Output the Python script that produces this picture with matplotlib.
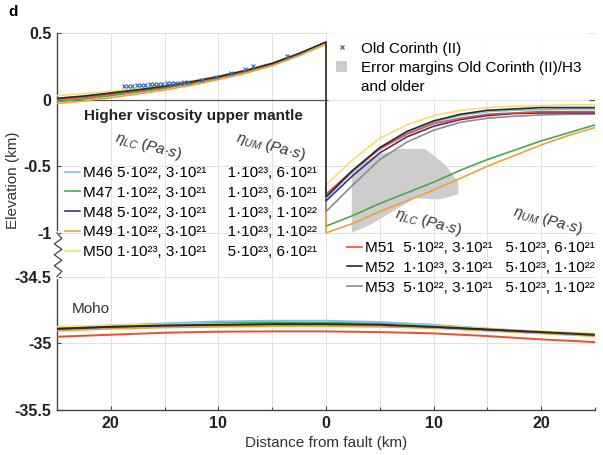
import numpy as np
import matplotlib
matplotlib.use("Agg")
import matplotlib.pyplot as plt
from matplotlib.lines import Line2D
from matplotlib.patches import Patch, Polygon
import matplotlib.transforms as mtransforms

plt.rcParams['font.family'] = ['Liberation Sans', 'DejaVu Sans']
plt.rcParams['mathtext.fontset'] = 'custom'
plt.rcParams['mathtext.rm'] = 'Liberation Sans'
plt.rcParams['mathtext.it'] = 'Liberation Sans:italic'

# ---------------- data ----------------
models = ["M46", "M47", "M48", "M49", "M50", "M51", "M52", "M53"]
colors = ["#7cc3e6", "#4aa84a", "#4b2a7f", "#f0a040", "#f5e06a", "#e8502e", "#2a2a2a", "#8c8c8c"]
eta_lc = ["5·10²², 3·10²¹", "1·10²², 3·10²¹", "5·10²², 3·10²¹", "1·10²², 3·10²¹",
          "1·10²³, 3·10²¹", "5·10²², 3·10²¹", "1·10²³, 3·10²¹", "5·10²², 3·10²¹"]
eta_um = ["1·10²³, 6·10²¹", "1·10²³, 6·10²¹", "1·10²³, 1·10²²", "1·10²³, 1·10²²",
          "5·10²³, 6·10²¹", "5·10²³, 6·10²¹", "5·10²³, 1·10²²", "5·10²³, 1·10²²"]

# surface profile, hanging wall side (x = -25 .. 0 km)
x_left = [-25, -22.5, -20, -17.5, -15, -12.5, -10, -7.5, -5, -2.5, 0]
surf_left = {
    "M46": [0.005, 0.023, 0.047, 0.072, 0.098, 0.132, 0.172, 0.218, 0.273, 0.347, 0.430],
    "M47": [-0.015, 0.005, 0.030, 0.057, 0.085, 0.120, 0.162, 0.208, 0.265, 0.340, 0.425],
    "M48": [0.005, 0.022, 0.045, 0.070, 0.096, 0.130, 0.170, 0.216, 0.271, 0.346, 0.430],
    "M49": [-0.030, -0.010, 0.015, 0.042, 0.072, 0.108, 0.150, 0.197, 0.255, 0.330, 0.415],
    "M50": [0.030, 0.045, 0.063, 0.085, 0.108, 0.140, 0.177, 0.220, 0.273, 0.345, 0.425],
    "M51": [0.000, 0.018, 0.042, 0.068, 0.094, 0.128, 0.168, 0.214, 0.269, 0.344, 0.430],
    "M52": [0.010, 0.027, 0.050, 0.074, 0.100, 0.134, 0.173, 0.218, 0.272, 0.346, 0.432],
    "M53": [0.000, 0.018, 0.042, 0.067, 0.093, 0.127, 0.167, 0.213, 0.268, 0.343, 0.428],
}
# surface profile, footwall side (x = 0 .. 25 km)
x_right = [0, 2.5, 5, 7.5, 10, 12.5, 15, 17.5, 20, 22.5, 25]
surf_right = {
    "M46": [-0.74, -0.54, -0.37, -0.25, -0.17, -0.12, -0.09, -0.080, -0.075, -0.07, -0.07],
    "M47": [-0.95, -0.87, -0.78, -0.70, -0.62, -0.53, -0.45, -0.38, -0.31, -0.25, -0.19],
    "M48": [-0.76, -0.57, -0.40, -0.28, -0.20, -0.15, -0.12, -0.105, -0.10, -0.10, -0.10],
    "M49": [-1.00, -0.93, -0.84, -0.76, -0.68, -0.59, -0.50, -0.42, -0.34, -0.27, -0.21],
    "M50": [-0.64, -0.45, -0.29, -0.19, -0.12, -0.08, -0.06, -0.05, -0.045, -0.04, -0.04],
    "M51": [-0.71, -0.53, -0.37, -0.26, -0.18, -0.14, -0.11, -0.10, -0.09, -0.09, -0.09],
    "M52": [-0.73, -0.53, -0.36, -0.24, -0.16, -0.11, -0.08, -0.07, -0.06, -0.06, -0.06],
    "M53": [-0.84, -0.64, -0.45, -0.32, -0.23, -0.17, -0.14, -0.125, -0.115, -0.11, -0.11],
}
# Moho profile
x_moho = [-25, -20, -15, -10, -5, 0, 5, 10, 15, 20, 25]
moho = {
    "M46": [-34.885, -34.865, -34.850, -34.835, -34.830, -34.830, -34.840, -34.860, -34.890, -34.915, -34.935],
    "M47": [-34.885, -34.870, -34.855, -34.845, -34.840, -34.845, -34.850, -34.865, -34.890, -34.915, -34.935],
    "M48": [-34.890, -34.875, -34.865, -34.860, -34.855, -34.855, -34.860, -34.875, -34.895, -34.915, -34.935],
    "M49": [-34.905, -34.890, -34.880, -34.875, -34.870, -34.870, -34.875, -34.885, -34.905, -34.925, -34.945],
    "M50": [-34.875, -34.865, -34.860, -34.855, -34.855, -34.855, -34.860, -34.870, -34.890, -34.910, -34.925],
    "M51": [-34.950, -34.935, -34.920, -34.912, -34.910, -34.910, -34.915, -34.925, -34.945, -34.970, -34.990],
    "M52": [-34.890, -34.875, -34.865, -34.860, -34.855, -34.855, -34.860, -34.875, -34.895, -34.915, -34.935],
    "M53": [-34.892, -34.877, -34.867, -34.862, -34.857, -34.857, -34.862, -34.877, -34.897, -34.917, -34.937],
}
# Old Corinth (II) observations
oc_x = [-18.8, -18.4, -18.0, -17.6, -17.2, -16.8, -16.4, -16.0, -15.6, -15.2, -14.8,
        -14.4, -14.0, -13.6, -13.2, -12.8, -11.5, -10.2, -8.8, -7.5, -6.8, -3.6]
oc_y = [0.100, 0.103, 0.105, 0.107, 0.110, 0.112, 0.114, 0.116, 0.118, 0.120, 0.121,
        0.123, 0.125, 0.127, 0.129, 0.131, 0.150, 0.170, 0.200, 0.230, 0.250, 0.330]
oc_err = [0.01] * len(oc_x)
# error margins polygon (Old Corinth (II)/H3 and older)
err_x = [2.4, 4.6, 6.9, 9.2, 11.1, 12.3, 12.3, 10.6, 8.3, 6.4, 4.1, 2.4]
err_y = [-0.53, -0.42, -0.37, -0.37, -0.49, -0.62, -0.71, -0.75, -0.74, -0.83, -0.94, -1.00]

x_ticks = [-20, -10, 0, 10, 20]
x_ticklabels = ["20", "10", "0", "10", "20"]
y_ticks = [-35.5, -35, -34.5, -1, -0.5, 0, 0.5]
y_ticklabels = ["-35.5", "-35", "-34.5", "-1", "-0.5", "0", "0.5"]

# ------------- broken y scale ----------------
GAP = 0.33
SHIFT = 34.5 - 1 - GAP  # 33.17


def fwd(y):
    y = np.asarray(y, dtype=float)
    return np.where(y >= -1, y,
                    np.where(y <= -34.5, y + SHIFT, -1 + (y + 1) * (GAP / 33.5)))


def inv(t):
    t = np.asarray(t, dtype=float)
    return np.where(t >= -1, t,
                    np.where(t <= -1 - GAP, t - SHIFT, -1 + (t + 1) * (33.5 / GAP)))


fig = plt.figure(figsize=(6.03, 4.55), dpi=100)
W, H = 603, 455
ax = fig.add_axes([57 / W, 1 - 410 / H, (595 - 57) / W, (410 - 33) / H])
ax.set_yscale('function', functions=(fwd, inv))
ax.set_xlim(-25, 25)
ax.set_ylim(-35.5, 0.5)

# grid
for xv in np.arange(-25, 26, 5):
    ax.axvline(xv, color="#e2e2e2", lw=0.7, zorder=0)
for yv in y_ticks:
    ax.axhline(yv, color="#e2e2e2", lw=0.7, zorder=0)
ax.axhline(0, color="#555555", lw=0.9, zorder=1)

# error polygon
ax.add_patch(Polygon(np.column_stack([err_x, err_y]), closed=True,
                     facecolor="#cdcdcd", edgecolor="none", zorder=1))

order = ["M47", "M49", "M53", "M48", "M46", "M51", "M50", "M52"]
handles = {}
for m in order:
    c = colors[models.index(m)]
    xs = np.concatenate([x_left, x_right])
    ys = np.concatenate([surf_left[m], surf_right[m]])
    ln, = ax.plot(xs, ys, color=c, lw=1.2, zorder=3)
    ax.plot(x_moho, moho[m], color=c, lw=1.4, zorder=3)
    handles[m] = ln

# Old Corinth observations
ax.errorbar(oc_x, oc_y, yerr=oc_err, fmt='x', color="#2f6db5", ms=2.2, mew=0.8,
            ecolor="#a0a0a0", elinewidth=0.6, capsize=0, zorder=4)

# axes styling
for s in ["top", "right"]:
    ax.spines[s].set_visible(False)
for s in ["left", "bottom"]:
    ax.spines[s].set_color("#444444")
    ax.spines[s].set_linewidth(1.0)
ax.set_xticks(x_ticks)
ax.set_xticklabels(x_ticklabels)
ax.set_xticks(np.arange(-25, 26, 5), minor=True)
ax.set_yticks(y_ticks)
ax.set_yticklabels(y_ticklabels)
ax.tick_params(axis='both', direction='in', length=3, width=0.8, color="#444444",
               labelsize=11.5, pad=4)
ax.tick_params(axis='x', which='minor', direction='in', length=2, width=0.8, color="#444444")
ax.tick_params(axis='y', which='minor', length=0)
for lab in ax.get_xticklabels() + ax.get_yticklabels():
    lab.set_fontweight('bold')
    lab.set_color("#222222")

# axis break
bt = mtransforms.blended_transform_factory(ax.transAxes, ax.transData)
ax.plot([0, 0], [-1.02, -34.48], color="white", lw=3, transform=bt, clip_on=False, zorder=5)
zz_y = np.linspace(-1.04, -34.46, 9)
zz_x = [0, 0.009, -0.005, 0.009, -0.005, 0.009, -0.005, 0.009, 0]
ax.plot(zz_x, zz_y, color="#444444", lw=0.9, transform=bt, clip_on=False, zorder=6)

# labels
fig.text(13 / W, 1 - 180 / H, "Elevation (km)", rotation=90, ha='center', va='center',
         fontsize=11, color="#333333")
fig.text(326 / W, 1 - 443 / H, "Distance from fault (km)", ha='center', va='center',
         fontsize=11, color="#333333")
fig.text(8 / W, 1 - 12 / H, "d", ha='left', va='center', fontsize=11, fontweight='bold')
ax.text(-23.6, -34.74, "Moho", ha='left', va='center', fontsize=11, color="#333333")

# top-right legend
oc_handle = Line2D([], [], marker='x', ls='none', color="#2f6db5", ms=3, mew=0.9)
err_handle = Patch(facecolor="#cdcdcd", edgecolor="none")
blank = Patch(facecolor="none", edgecolor="none")
leg0 = ax.legend([oc_handle, err_handle, blank],
                 ["Old Corinth (II)", "Error margins Old Corinth (II)/H3", "and older"],
                 loc='upper right', bbox_to_anchor=(0.99, 1.0), fontsize=11,
                 frameon=True, facecolor="white", edgecolor="none", framealpha=0.85,
                 handlelength=0.7, handleheight=0.8, handletextpad=0.9,
                 labelspacing=0.33, borderpad=0.55, borderaxespad=0.0)
ax.add_artist(leg0)

# left legend
ax.text(-22.5, -0.12, "Higher viscosity upper mantle", fontsize=11, fontweight='bold',
        ha='left', va='center', color="#222222", zorder=7)
hdr_lc = r"$\eta_{LC}$ $(Pa{\cdot}s)$"
hdr_um = r"$\eta_{UM}$ $(Pa{\cdot}s)$"
ax.text(-16.5, -0.35, hdr_lc, rotation=-15, fontsize=11, ha='center', va='center', color="#333333")
ax.text(-5.1, -0.35, hdr_um, rotation=-15, fontsize=11, ha='center', va='center', color="#333333")
ax.text(9.5, -0.92, hdr_lc, rotation=-15, fontsize=11, ha='center', va='center', color="#333333")
ax.text(20.6, -0.91, hdr_um, rotation=-15, fontsize=11, ha='center', va='center', color="#333333")

left_models = ["M46", "M47", "M48", "M49", "M50"]
right_models = ["M51", "M52", "M53"]


def lab(m, gap):
    i = models.index(m)
    return f"{m} {eta_lc[i]}{' ' * gap}{eta_um[i]}"


leg1 = ax.legend([handles[m] for m in left_models], [lab(m, 5) for m in left_models],
                 loc='upper left', bbox_to_anchor=((65 - 57) / 538, (410 - 166) / 377),
                 fontsize=11, frameon=False, handlelength=1.0, handletextpad=0.15,
                 labelspacing=0.38, borderpad=0, borderaxespad=0)
ax.add_artist(leg1)
leg2 = ax.legend([handles[m] for m in right_models],
                 [f"{m}  {eta_lc[models.index(m)]}   {eta_um[models.index(m)]}" for m in right_models],
                 loc='upper left', bbox_to_anchor=((347 - 57) / 538, (410 - 241) / 377),
                 fontsize=11, frameon=False, handlelength=1.0, handletextpad=0.15,
                 labelspacing=0.38, borderpad=0, borderaxespad=0)

fig.savefig("out.png", dpi=100)
